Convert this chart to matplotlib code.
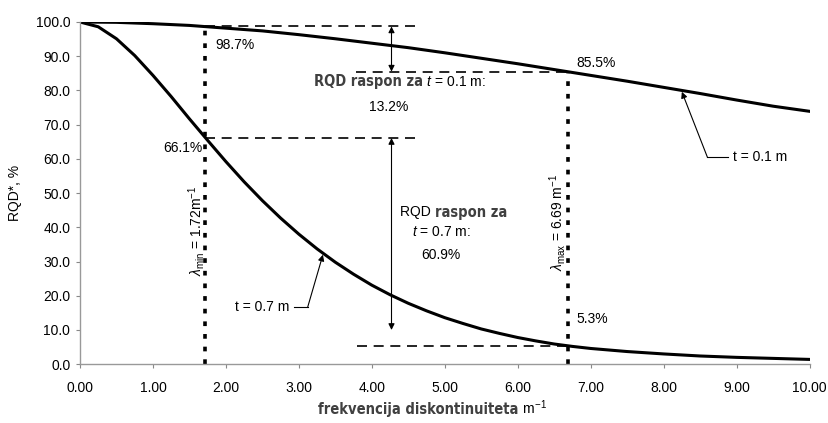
"""
RQD* u ovisnosti o frekvenciji diskontinuiteta za dvije granične duljine t.
Izlaz: out.png
"""

import matplotlib
matplotlib.use("Agg")
import matplotlib.pyplot as plt

plt.rcParams["font.family"] = ["Liberation Sans", "DejaVu Sans"]
plt.rcParams["mathtext.fontset"] = "custom"
plt.rcParams["mathtext.rm"] = "Liberation Sans"
plt.rcParams["mathtext.it"] = "Liberation Sans:italic"

NARROW = dict(family="DejaVu Sans", stretch="condensed", weight="bold",
              color="#404040")

# frekvencija diskontinuiteta (m^-1) i očitani RQD* (%)
lam_01 = [0.0, 0.5, 1.0, 1.5, 2.0, 2.5, 3.0, 3.5, 4.0, 4.5, 5.0,
          5.5, 6.0, 6.5, 7.0, 7.5, 8.0, 8.5, 9.0, 9.5, 10.0]
rqd_01 = [100.0, 99.9, 99.5, 99.0, 98.2, 97.4, 96.3, 95.1, 93.8, 92.5, 91.0,
          89.4, 87.8, 86.1, 84.4, 82.7, 80.9, 79.1, 77.2, 75.4, 73.9]

lam_07 = [0.0, 0.25, 0.5, 0.75, 1.0, 1.25, 1.5, 1.75, 2.0, 2.25, 2.5,
          2.75, 3.0, 3.25, 3.5, 3.75, 4.0, 4.25, 4.5, 4.75, 5.0,
          5.25, 5.5, 5.75, 6.0, 6.25, 6.5, 6.75, 7.0, 7.5, 8.0,
          8.5, 9.0, 9.5, 10.0]
rqd_07 = [100.0, 98.6, 95.1, 90.2, 84.4, 78.2, 71.7, 65.4, 59.2, 53.3, 47.8,
          42.7, 38.0, 33.7, 29.8, 26.3, 23.1, 20.3, 17.8, 15.6, 13.6,
          11.9, 10.3, 9.0, 7.8, 6.8, 5.9, 5.2, 4.6, 3.7, 3.0,
          2.4, 2.0, 1.7, 1.4]

# granične frekvencije i pripadne vrijednosti
lam_min, lam_max = 1.72, 6.69
rqd_min_01, rqd_max_01 = 98.7, 85.5
rqd_min_07, rqd_max_07 = 66.1, 5.3

xticks = [0, 1, 2, 3, 4, 5, 6, 7, 8, 9, 10]
yticks = [0, 10, 20, 30, 40, 50, 60, 70, 80, 90, 100]

fig = plt.figure(figsize=(8.29, 4.23), dpi=100)
ax = fig.add_axes([0.0965, 0.139, 0.880, 0.809])

ax.plot(lam_01, rqd_01, color="black", lw=2.2, solid_joinstyle="round")
ax.plot(lam_07, rqd_07, color="black", lw=2.2, solid_joinstyle="round")

# isprekidane horizontale
dash = dict(color="black", lw=1.2, linestyle=(0, (6, 4)))
ax.plot([lam_min, 4.62], [rqd_min_01, rqd_min_01], **dash)
ax.plot([3.78, lam_max], [rqd_max_01, rqd_max_01], **dash)
ax.plot([lam_min, 4.62], [rqd_min_07, rqd_min_07], **dash)
ax.plot([3.80, lam_max], [rqd_max_07, rqd_max_07], **dash)

# točkaste vertikale
dots = dict(color="black", lw=2.6, linestyle=(0, (1.3, 2.2)))
ax.plot([lam_min, lam_min], [0, rqd_min_01], **dots)
ax.plot([lam_max, lam_max], [0, rqd_max_01], **dots)

# strelice raspona
arr = dict(arrowstyle="<|-|>", color="black", lw=0.8, mutation_scale=9,
           shrinkA=0, shrinkB=0)
ax.annotate("", xy=(4.27, rqd_min_01), xytext=(4.27, rqd_max_01), arrowprops=arr)
ax.annotate("", xy=(4.27, rqd_min_07), xytext=(4.27, 10.0), arrowprops=arr)

# oznake krivulja
lead = dict(arrowstyle="-|>", color="black", lw=0.8, mutation_scale=9,
            shrinkA=0, shrinkB=0)
ax.annotate("", xy=(8.25, 79.6), xytext=(8.60, 60.5), arrowprops=lead)
ax.plot([8.60, 8.88], [60.5, 60.5], color="black", lw=0.8)
ax.text(8.95, 60.5, "t = 0.1 m", fontsize=10, va="center", ha="left")

ax.annotate("", xy=(3.33, 32.0), xytext=(3.12, 16.6), arrowprops=lead)
ax.plot([2.93, 3.12], [16.6, 16.6], color="black", lw=0.8)
ax.text(2.87, 16.6, "t = 0.7 m", fontsize=10, va="center", ha="right")

# vrijednosti
ax.text(1.85, 93.3, "98.7%", fontsize=10, va="center", ha="left")
ax.text(1.68, 63.3, "66.1%", fontsize=10, va="center", ha="right")
ax.text(6.80, 87.9, "85.5%", fontsize=10, va="center", ha="left")
ax.text(6.80, 13.2, "5.3%", fontsize=10, va="center", ha="left")

ax.text(1.60, 39.0, r"$\lambda_{\rm min}$ = 1.72m$^{-1}$", fontsize=10,
        rotation=90, ha="center", va="center")
ax.text(6.55, 41.5, r"$\lambda_{\rm max}$ = 6.69 m$^{-1}$", fontsize=10,
        rotation=90, ha="center", va="center")

# tekst raspona za t = 0.1 m
t1 = ax.text(3.21, 82.5, "RQD raspon za", fontsize=10.5, va="center",
             ha="left", **NARROW)
ax.annotate(r" $t$ = 0.1 m:", xy=(1, 0.5), xycoords=t1, fontsize=10,
            va="center", ha="left")
ax.text(4.23, 75.2, "13.2%", fontsize=10, va="center", ha="center")

# tekst raspona za t = 0.7 m
t2 = ax.text(4.39, 44.4, "RQD ", fontsize=10, va="center", ha="left")
ax.annotate("raspon za", xy=(1, 0.5), xycoords=t2, fontsize=10.5,
            va="center", ha="left", **NARROW)
ax.text(4.95, 38.6, r"$t$ = 0.7 m:", fontsize=10, va="center", ha="center")
ax.text(4.95, 31.9, "60.9%", fontsize=10, va="center", ha="center")

# osi
ax.set_xlim(0, 10)
ax.set_ylim(0, 100)
ax.set_xticks(xticks)
ax.set_xticklabels([f"{v:.2f}" for v in xticks])
ax.set_yticks(yticks)
ax.set_yticklabels([f"{v:.1f}" for v in yticks])
ax.tick_params(labelsize=10, length=3, color="#888888")
ax.tick_params(axis="x", pad=9)
ax.tick_params(axis="y", pad=4)
for side in ("top", "right"):
    ax.spines[side].set_visible(False)
for side in ("left", "bottom"):
    ax.spines[side].set_color("#999999")
    ax.spines[side].set_linewidth(1.0)

ax.set_ylabel("RQD*, %", fontsize=10, labelpad=10)
xl = fig.text(0.505, 0.022, "frekvencija diskontinuiteta", fontsize=10.5,
              ha="center", va="baseline", **NARROW)
ax.annotate(r" m$^{-1}$", xy=(1, 0), xycoords=xl, fontsize=10,
            va="bottom", ha="left")

fig.savefig("out.png", dpi=100)
